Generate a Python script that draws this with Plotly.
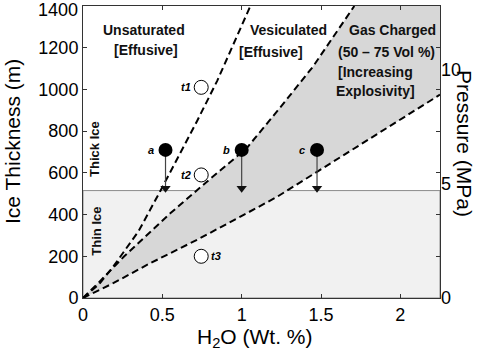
import plotly.graph_objects as go

# ---- data ----
X_RANGE = [0, 2.25]
Y_RANGE = [0, 1400]
P_RANGE = [0, 12.8]          # MPa equivalent of ice thickness range
THIN_ICE_TOP = 515           # m, thick/thin ice boundary

# saturation curve (Unsaturated | Vesiculated)
H2O_SAT = [0, 0.10, 0.19, 0.35, 0.49, 0.61, 0.72, 0.845, 0.97, 1.055]
ICE_SAT = [0, 65, 150, 320, 517, 690, 850, 1040, 1250, 1400]
# vesiculated | gas charged (50 vol%)
H2O_VES = [0, 0.10, 0.26, 0.55, 0.80, 1.03, 1.25, 1.45, 1.71]
ICE_VES = [0, 75, 200, 406, 570, 717, 920, 1110, 1400]
# gas charged lower bound (75 vol%)
H2O_EXP = [0, 0.193, 0.424, 0.719, 0.992, 1.223, 1.475, 1.727, 2.25]
ICE_EXP = [0, 72, 167, 279, 390, 485, 605, 724, 975]

# samples (filled) with arrows down to thin-ice boundary
SAMPLE_LABELS = ["a", "b", "c"]
SAMPLE_H2O = [0.52, 1.0, 1.475]
SAMPLE_ICE = [710, 710, 710]
ARROW_HEAD_ICE = [526, 526, 526]

# open circles
T_LABELS = ["t1", "t2", "t3"]
T_H2O = [0.745, 0.745, 0.745]
T_ICE = [1010, 590, 200]
T_SIDE = ["left", "left", "right"]

X_TICKS = [0, 0.5, 1, 1.5, 2]
X_TICKTEXT = ["0", "0.5", "1", "1.5", "2"]
Y_TICKS = [0, 200, 400, 600, 800, 1000, 1200, 1400]
Y_TICKTEXT = ["0", "200", "400", "600", "800", "1000", "1200", "1400"]
P_TICKS = [0, 5, 10]

FONT = "Liberation Sans, Arial, sans-serif"
fig = go.Figure()

# thin ice band
fig.add_trace(go.Scatter(
    x=[X_RANGE[0], X_RANGE[1], X_RANGE[1], X_RANGE[0], X_RANGE[0]],
    y=[0, 0, THIN_ICE_TOP, THIN_ICE_TOP, 0],
    mode="lines", fill="toself", fillcolor="#f1f1f1",
    line=dict(color="#8a8a8a", width=1), hoverinfo="skip", showlegend=False))

# gas-charged wedge
wx = H2O_EXP + [X_RANGE[1]] + H2O_VES[::-1]
wy = ICE_EXP + [Y_RANGE[1]] + ICE_VES[::-1]
fig.add_trace(go.Scatter(x=wx, y=wy, mode="lines", fill="toself",
                         fillcolor="#d7d7d7", line=dict(width=0),
                         hoverinfo="skip", showlegend=False))

for xs, ys in [(H2O_SAT, ICE_SAT), (H2O_VES, ICE_VES), (H2O_EXP, ICE_EXP)]:
    fig.add_trace(go.Scatter(x=xs, y=ys, mode="lines",
                             line=dict(color="black", width=2, dash="7px,4px"),
                             hoverinfo="skip", showlegend=False))

# arrows: shaft + head
for lx, ly, hy in zip(SAMPLE_H2O, SAMPLE_ICE, ARROW_HEAD_ICE):
    fig.add_trace(go.Scatter(x=[lx, lx], y=[ly, hy], mode="lines",
                             line=dict(color="#444444", width=1.2),
                             hoverinfo="skip", showlegend=False))
fig.add_trace(go.Scatter(x=SAMPLE_H2O, y=ARROW_HEAD_ICE, mode="markers",
                         marker=dict(symbol="triangle-down", size=9, color="#111111"),
                         hoverinfo="skip", showlegend=False))

fig.add_trace(go.Scatter(x=SAMPLE_H2O, y=SAMPLE_ICE, mode="markers",
                         marker=dict(size=14, color="black"),
                         hoverinfo="skip", showlegend=False))
fig.add_trace(go.Scatter(x=T_H2O, y=T_ICE, mode="markers",
                         marker=dict(size=14, color="white",
                                     line=dict(color="black", width=1)),
                         hoverinfo="skip", showlegend=False))

lab_font = dict(family=FONT, size=11, color="black")
for t, lx, ly in zip(SAMPLE_LABELS, SAMPLE_H2O, SAMPLE_ICE):
    fig.add_annotation(x=lx, y=ly, text=f"<b><i>{t}</i></b>", showarrow=False,
                       xanchor="right", xshift=-10, font=lab_font)
for t, lx, ly, side in zip(T_LABELS, T_H2O, T_ICE, T_SIDE):
    if side == "left":
        fig.add_annotation(x=lx, y=ly, text=f"<b><i>{t}</i></b>", showarrow=False,
                           xanchor="right", xshift=-8, font=lab_font)
    else:
        fig.add_annotation(x=lx, y=ly, text=f"<b><i>{t}</i></b>", showarrow=False,
                           xanchor="left", xshift=8, font=lab_font)

# region texts
reg_font = dict(family=FONT, size=14, color="#111111")
region_texts = [
    ("Unsaturated", 0.387, 1283), ("[Effusive]", 0.399, 1187),
    ("Vesiculated", 1.297, 1283), ("[Effusive]", 1.187, 1180),
    ("Gas Charged", 1.948, 1283), ("(50 \u2013 75 Vol %)", 1.912, 1180),
    ("[Increasing", 1.843, 1084), ("Explosivity]", 1.843, 993),
]
for t, tx, ty in region_texts:
    fig.add_annotation(x=tx, y=ty, text=f"<b>{t}</b>", showarrow=False,
                       font=reg_font)
fig.add_annotation(x=0.071, y=716, text="<b>Thick Ice</b>", textangle=-90,
                   showarrow=False, font=dict(family=FONT, size=13, color="#111111"))
fig.add_annotation(x=0.087, y=322, text="<b>Thin Ice</b>", textangle=-90,
                   showarrow=False, font=dict(family=FONT, size=13, color="#111111"))

# invisible trace to activate pressure axis
fig.add_trace(go.Scatter(x=[0], y=[0], yaxis="y2", mode="markers",
                         marker=dict(opacity=0), hoverinfo="skip", showlegend=False))

tick_font = dict(family=FONT, size=18, color="black")
# top tick label, nudged down to stay inside the page
fig.add_annotation(x=0, y=Y_TICKS[-1], xref="paper", yref="y", xanchor="right",
                   yanchor="middle", xshift=-3, yshift=-4, text=Y_TICKTEXT[-1],
                   showarrow=False, font=tick_font)

title_font = dict(family=FONT, size=21, color="black")
# axis titles as annotations for exact placement
fig.add_annotation(x=0, y=0.5, xref="paper", yref="paper", xanchor="center",
                   yanchor="middle", xshift=-71, yshift=10,
                   text="Ice Thickness (m)", textangle=-90, showarrow=False,
                   font=title_font)
fig.add_annotation(x=0.5, y=0, xref="paper", yref="paper", xanchor="center",
                   yanchor="middle", xshift=-7, yshift=-40,
                   text="H<sub>2</sub>O (Wt. %)", showarrow=False, font=title_font)
fig.add_annotation(x=1, y=0.5, xref="paper", yref="paper", xanchor="center",
                   yanchor="middle", xshift=25, yshift=9,
                   text="Pressure (MPa)", textangle=90, showarrow=False,
                   font=title_font)

axis_common = dict(showgrid=False, zeroline=False, showline=True,
                   linecolor="#333333", linewidth=1, ticks="inside",
                   ticklen=4, tickcolor="#333333", mirror="ticks",
                   automargin=False, tickfont=tick_font)

fig.update_layout(
    width=484, height=353,
    margin=dict(l=83, r=44, t=6, b=55),
    paper_bgcolor="white", plot_bgcolor="white",
    xaxis=dict(range=X_RANGE, tickvals=X_TICKS, ticktext=X_TICKTEXT, **axis_common),
    yaxis=dict(range=Y_RANGE, tickvals=Y_TICKS,
               ticktext=Y_TICKTEXT[:-1] + [""], **axis_common),
    yaxis2=dict(range=P_RANGE, tickvals=P_TICKS, overlaying="y", side="right",
                showgrid=False, zeroline=False, showline=False, ticks="",
                automargin=False, ticklabeloverflow="allow", tickfont=tick_font),
)

fig.write_html("out.html", config={"displayModeBar": False},
               post_script="document.body.style.margin='0';")
